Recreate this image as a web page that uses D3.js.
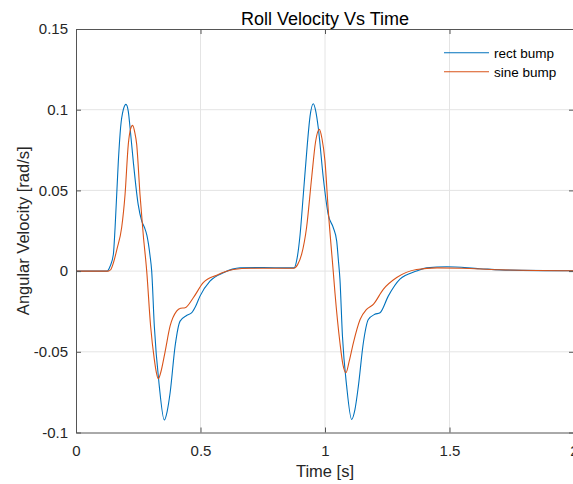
<!DOCTYPE html>
<html>
<head>
<meta charset="utf-8">
<script src="https://cdn.jsdelivr.net/npm/d3@7"></script>
<style>
  html, body { margin: 0; padding: 0; background: #fff; }
  svg { display: block; font-family: "Liberation Sans", Arial, Helvetica, sans-serif; }
</style>
</head>
<body>
<svg id="chart" width="573" height="484"></svg>
<script>
// ---- data ----
const seriesNames = ["rect bump", "sine bump"];
const rectT = [0, 0.125, 0.137, 0.150, 0.157, 0.170, 0.179, 0.190, 0.2008, 0.210, 0.217, 0.230, 0.250, 0.264, 0.275, 0.285, 0.297, 0.304, 0.3145, 0.3345, 0.3546, 0.366, 0.378, 0.398, 0.418, 0.444, 0.465, 0.480, 0.498, 0.538, 0.592, 0.659, 0.75, 0.85, 0.8755, 0.888, 0.900, 0.913, 0.929, 0.940, 0.953, 0.963, 0.973, 0.993, 1.013, 1.033, 1.047, 1.0536, 1.060, 1.070, 1.087, 1.107, 1.120, 1.134, 1.154, 1.174, 1.200, 1.221, 1.254, 1.301, 1.368, 1.408, 1.489, 1.622, 1.743, 2.0];
const rectV = [0, 0, 0.003, 0.0103, 0.027, 0.068, 0.0888, 0.100, 0.1033, 0.099, 0.089, 0.068, 0.041, 0.031, 0.027, 0.022, 0.010, 0, -0.034, -0.0713, -0.0923, -0.087, -0.0754, -0.0465, -0.031, -0.0275, -0.0258, -0.022, -0.0155, -0.0062, -0.001, 0.002, 0.0022, 0.002, 0.002, 0.008, 0.0227, 0.0475, 0.0785, 0.096, 0.1037, 0.099, 0.0888, 0.058, 0.035, 0.027, 0.0186, 0.007, -0.005, -0.040, -0.0713, -0.0919, -0.086, -0.0713, -0.0444, -0.030, -0.0268, -0.0258, -0.0155, -0.005, 0, 0.002, 0.0027, 0.0015, 0.0006, 0.0002];
const sineT = [0, 0.13, 0.140, 0.150, 0.165, 0.1834, 0.197, 0.210, 0.219, 0.2275, 0.236, 0.2437, 0.257, 0.270, 0.284, 0.2996, 0.3145, 0.323, 0.3306, 0.340, 0.357, 0.378, 0.404, 0.420, 0.438, 0.471, 0.511, 0.565, 0.632, 0.70, 0.80, 0.8755, 0.890, 0.906, 0.926, 0.9465, 0.962, 0.977, 0.988, 1.0, 1.0134, 1.033, 1.040, 1.060, 1.072, 1.084, 1.097, 1.114, 1.141, 1.167, 1.194, 1.234, 1.288, 1.368, 1.45, 1.55, 1.70, 2.0];
const sineV = [0, 0, 0.001, 0.005, 0.014, 0.027, 0.0475, 0.0785, 0.088, 0.0903, 0.086, 0.0785, 0.0475, 0.0227, 0, -0.034, -0.0547, -0.063, -0.0667, -0.063, -0.0506, -0.034, -0.0248, -0.023, -0.0227, -0.0165, -0.0072, -0.0025, 0.001, 0.0018, 0.0018, 0.0018, 0.004, 0.0103, 0.027, 0.058, 0.080, 0.0878, 0.082, 0.068, 0.037, 0, -0.0134, -0.0444, -0.058, -0.063, -0.056, -0.0444, -0.030, -0.0237, -0.0206, -0.0113, -0.004, 0.001, 0.002, 0.0018, 0.0008, 0.0002];
const xTicks = [0, 0.5, 1, 1.5, 2];
const xTickLabels = ["0", "0.5", "1", "1.5", "2"];
const yTicks = [-0.1, -0.05, 0, 0.05, 0.1, 0.15];
const yTickLabels = ["-0.1", "-0.05", "0", "0.05", "0.1", "0.15"];
const titleText = "Roll Velocity Vs Time";
const xLabelText = "Time [s]";
const yLabelText = "Angular Velocity [rad/s]";

// ---- layout ----
const L = 76, R = 574, T = 29, B = 432.5;
const colors = ["#0072BD", "#D95319"];
const axisColor = "#555";
const gridColor = "#e4e4e4";

const svg = d3.select("#chart");
const x = d3.scaleLinear().domain([0, 2]).range([L, R]);
const y = d3.scaleLinear().domain([-0.1, 0.15]).range([B, T]);

// grid
const grid = svg.append("g");
grid.selectAll(".gx").data(xTicks.slice(1, -1)).enter().append("line")
  .attr("x1", d => x(d)).attr("x2", d => x(d)).attr("y1", T).attr("y2", B)
  .attr("stroke", gridColor).attr("stroke-width", 1);
grid.selectAll(".gy").data(yTicks.slice(1, -1)).enter().append("line")
  .attr("x1", L).attr("x2", R).attr("y1", d => y(d)).attr("y2", d => y(d))
  .attr("stroke", gridColor).attr("stroke-width", 1);

// clip
svg.append("clipPath").attr("id", "clip").append("rect")
  .attr("x", L).attr("y", T).attr("width", R - L).attr("height", B - T);

const line = d3.line().x(d => x(d[0])).y(d => y(d[1])).curve(d3.curveMonotoneX);
const seriesData = [d3.zip(rectT, rectV), d3.zip(sineT, sineV)];
const plot = svg.append("g").attr("clip-path", "url(#clip)");
seriesData.forEach((s, i) => {
  plot.append("path").datum(s).attr("d", line)
    .attr("fill", "none").attr("stroke", colors[i]).attr("stroke-width", 1.1)
    .attr("stroke-linejoin", "round");
});

// axes
function styleAxis(g) {
  g.select(".domain").attr("stroke", axisColor).attr("stroke-width", 1);
  g.selectAll(".tick line").attr("stroke", axisColor).attr("stroke-width", 1);
  g.selectAll(".tick text").attr("fill", "#262626").attr("font-size", "15px")
    .attr("font-family", "Liberation Sans, Arial, sans-serif");
}
const fmtX = d => xTickLabels[xTicks.indexOf(d)];
const fmtY = d => yTickLabels[yTicks.indexOf(d)];

const gxB = svg.append("g").attr("transform", `translate(0,${B})`)
  .call(d3.axisBottom(x).tickValues(xTicks).tickFormat(fmtX).tickSizeInner(-5).tickSizeOuter(0).tickPadding(13));
styleAxis(gxB);
const gxT = svg.append("g").attr("transform", `translate(0,${T})`)
  .call(d3.axisTop(x).tickValues(xTicks).tickFormat("").tickSizeInner(-5).tickSizeOuter(0));
styleAxis(gxT);
const gyL = svg.append("g").attr("transform", `translate(${L},0)`)
  .call(d3.axisLeft(y).tickValues(yTicks).tickFormat(fmtY).tickSizeInner(-5).tickSizeOuter(0).tickPadding(8));
styleAxis(gyL);
const gyR = svg.append("g").attr("transform", `translate(${R},0)`)
  .call(d3.axisRight(y).tickValues(yTicks).tickFormat("").tickSizeInner(-5).tickSizeOuter(0));
styleAxis(gyR);

// labels
svg.append("text").attr("x", (L + R) / 2).attr("y", 25).attr("text-anchor", "middle")
  .attr("font-size", "18px").attr("fill", "#000").text(titleText);
svg.append("text").attr("x", (L + R) / 2).attr("y", 477).attr("text-anchor", "middle")
  .attr("font-size", "16.5px").attr("fill", "#262626").text(xLabelText);
svg.append("text").attr("transform", `translate(29,${(T + B) / 2}) rotate(-90)`)
  .attr("text-anchor", "middle").attr("font-size", "16.5px").attr("fill", "#262626").text(yLabelText);

// legend
const leg = svg.append("g");
seriesNames.forEach((n, i) => {
  const yy = 52.7 + i * 19;
  leg.append("line").attr("x1", 444).attr("x2", 489).attr("y1", yy).attr("y2", yy)
    .attr("stroke", colors[i]).attr("stroke-width", 1.1);
  leg.append("text").attr("x", 494).attr("y", yy + 4.8).attr("font-size", "13.5px")
    .attr("fill", "#000").text(n);
});
</script>
</body>
</html>
